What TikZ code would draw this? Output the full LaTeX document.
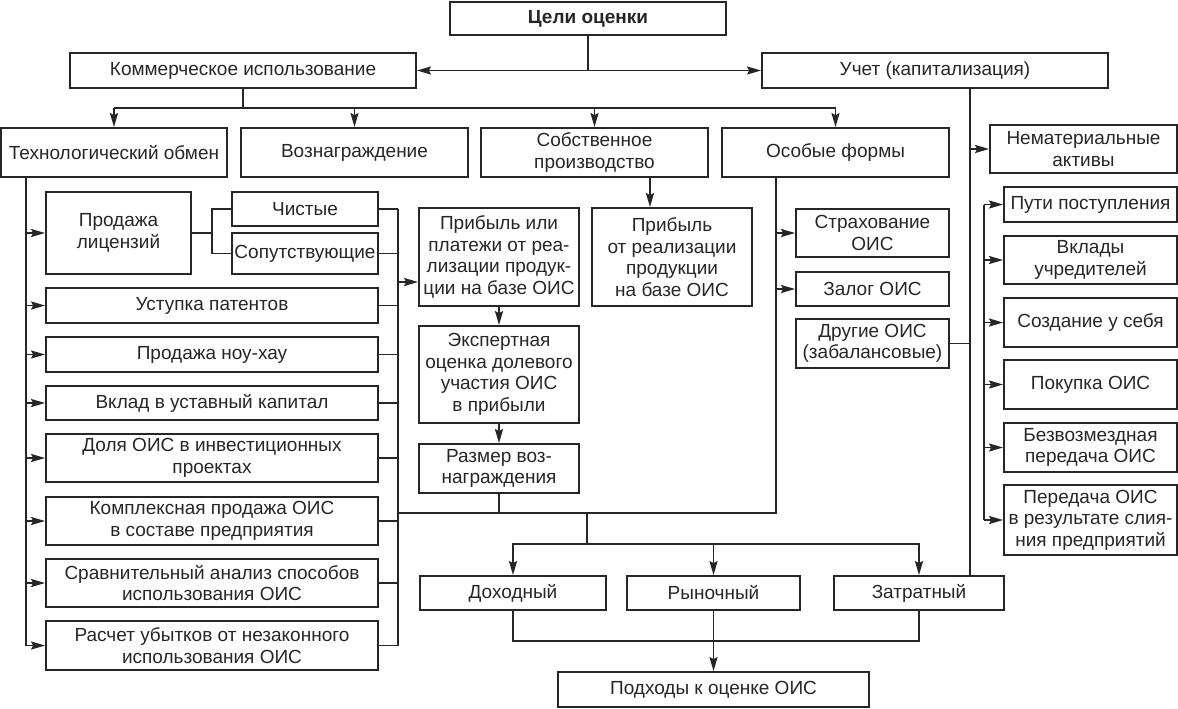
\documentclass[tikz,border=0pt]{standalone}
\usepackage{fontspec}
\setmainfont{Liberation Sans}
\usetikzlibrary{arrows.meta}

\begin{document}
\begin{tikzpicture}[x=0.5pt,y=-0.5pt,
  box/.style 2 args={draw=black!85,line width=0.9pt,inner sep=0pt,align=center,
    minimum width=#1*0.5pt,minimum height=#2*0.5pt,text=black!85,
    font=\fontsize{9.5}{10.8}\selectfont},
  line/.style={draw=black!85,line width=0.9pt},
  arr/.style={line,-{Stealth[length=7pt,width=4pt,inset=1pt]}}]
 \useasboundingbox (0,0) rectangle (1178,708);
 % top levels
 \node[box={276}{33}] (goal) at (588,18.5) {\bfseries Цели оценки};
 \node[box={346}{35}] (comm) at (243,70.5) {Коммерческое использование};
 \node[box={346}{35}] (acct) at (935,70.5) {Учет (капитализация)};
 \node[box={226}{49}] (tech) at (114,152.5) {Технологический обмен};
 \node[box={227}{49}] (rew) at (354.5,152.5) {Вознаграждение};
 \node[box={227}{49}] (own) at (594.5,152.5) {Собственное\\производство};
 \node[box={227}{49}] (spec) at (835.5,152.5) {Особые формы};
 \node[box={187}{48}] (intang) at (1083.5,149) {Нематериальные\\активы};
 % technological exchange
 \node[box={145}{82}] (lic) at (118.5,233) {Продажа\\лицензий};
 \node[box={146}{34}] (pure) at (305,209) {Чистые};
 \node[box={146}{41}] (accomp) at (305,253.5) {Сопутствующие};
 \node[box={332}{35}] (pat) at (212,305.5) {Уступка патентов};
 \node[box={332}{35}] (know) at (212,354.5) {Продажа ноу-хау};
 \node[box={332}{34}] (cap) at (212,403) {Вклад в уставный капитал};
 \node[box={332}{48}] (share) at (212,458) {Доля ОИС в инвестиционных\\проектах};
 \node[box={332}{48}] (complex) at (212,521) {Комплексная продажа ОИС\\в составе предприятия};
 \node[box={332}{48}] (compar) at (212,583) {Сравнительный анализ способов\\использования ОИС};
 \node[box={332}{49}] (loss) at (212,645.5) {Расчет убытков от незаконного\\использования ОИС};
 % reward and own production
 \node[box={160}{98}] (profit) at (499,257) {Прибыль или\\платежи от реа-\\лизации продук-\\ции на базе ОИС};
 \node[box={160}{97}] (expert) at (499,374.5) {Экспертная\\оценка долевого\\участия ОИС\\в прибыли};
 \node[box={160}{49}] (size) at (499,468.5) {Размер воз-\\награждения};
 \node[box={160}{98}] (ownprofit) at (672,257) {Прибыль\\от реализации\\продукции\\на базе ОИС};
 % special forms
 \node[box={153}{48}] (ins) at (872.5,233) {Страхование\\ОИС};
 \node[box={153}{34}] (pledge) at (872.5,289) {Залог ОИС};
 \node[box={153}{49}] (other) at (872.5,343.5) {Другие ОИС\\(забалансовые)};
 % intangible assets
 \node[box={173}{35}] (ways) at (1090.5,204.5) {Пути поступления};
 \node[box={173}{48}] (found) at (1090.5,260) {Вклады\\учредителей};
 \node[box={173}{49}] (create) at (1090.5,322.5) {Создание у себя};
 \node[box={173}{49}] (buy) at (1090.5,384.5) {Покупка ОИС};
 \node[box={173}{49}] (free) at (1090.5,447.5) {Безвозмездная\\передача ОИС};
 \node[box={173}{70}] (merge) at (1090.5,520) {Передача ОИС\\в результате слия-\\ния предприятий};
 % approaches
 \node[box={186}{34}] (inc) at (513,593) {Доходный};
 \node[box={173}{34}] (mkt) at (713.5,593) {Рыночный};
 \node[box={170}{34}] (cost) at (919,593) {Затратный};
 \node[box={311}{35}] (appr) at (713.5,689.5) {Подходы к оценке ОИС};

 \coordinate (lbus) at (26,0);
 \coordinate (rbus) at (398,0);
 \coordinate (fork) at (212,233);
 \coordinate (sbus) at (776,0);
 \coordinate (abus) at (970,0);
 \coordinate (rb) at (984,0);
 \coordinate (ob) at (650,0);
 \coordinate (tb) at (0,108);
 \coordinate (pin) at (398,282);
 \coordinate (mid) at (587,513);
 \coordinate (mb) at (587,544);
 \coordinate (bb) at (0,641);

 \draw[arr] (goal.south) |- (comm.east);
 \draw[arr] (goal.south) |- (acct.west);
 \draw[line] (comm.south) -- (comm.south |- tb);
 \draw[line] (tech.north |- tb) -- (spec.north |- tb);
 \foreach \n in {tech,rew,own,spec}
  \draw[arr] (\n.north |- tb) -- (\n.north);

 \draw[line] (tech.south -| lbus) -- (loss.west -| lbus);
 \foreach \n in {lic,pat,know,cap,share,complex,compar,loss}
  \draw[arr] (\n.west -| lbus) -- (\n.west);
 \draw[line] (lic.east) -- (fork);
 \draw[line] (pure.west) -| (fork) |- (accomp.west);
 \foreach \n in {pure,accomp,pat,know,cap,share,complex,compar,loss}
  \draw[line] (\n.east) -- (\n.east -| rbus);
 \draw[line] (pure.east -| rbus) -- (loss.east -| rbus);
 \draw[arr] (pin) -- (pin -| profit.west);
 \draw[arr] (profit.south) -- (expert.north);
 \draw[arr] (expert.south) -- (size.north);
 \draw[line] (size.south) -- (size.south |- mid);
 \draw[arr] (own.south -| ob) -- (ownprofit.north -| ob);

 \draw[line] (rbus |- mid) -- (sbus |- mid) -- (spec.south -| sbus);
 \draw[arr] (ins.west -| sbus) -- (ins.west);
 \draw[arr] (pledge.west -| sbus) -- (pledge.west);

 \draw[line] (acct.south -| abus) -- (cost.north -| abus);
 \draw[arr] (intang.west -| abus) -- (intang.west);
 \draw[line] (other.east) -- (other.east -| abus);
 \draw[line] (ways.west -| rb) -- (merge.west -| rb);
 \foreach \n in {ways,found,create,buy,free,merge}
  \draw[arr] (\n.west -| rb) -- (\n.west);

 \draw[line] (mid) -- (mb);
 \draw[arr] (mb) -| (inc.north);
 \draw[arr] (mb) -| (cost.north);
 \draw[arr] (mkt.north |- mb) -- (mkt.north);
 \draw[line] (inc.south) |- (cost.south |- bb) -- (cost.south);
 \draw[arr] (mkt.south) -- (appr.north);
\end{tikzpicture}
\end{document}
